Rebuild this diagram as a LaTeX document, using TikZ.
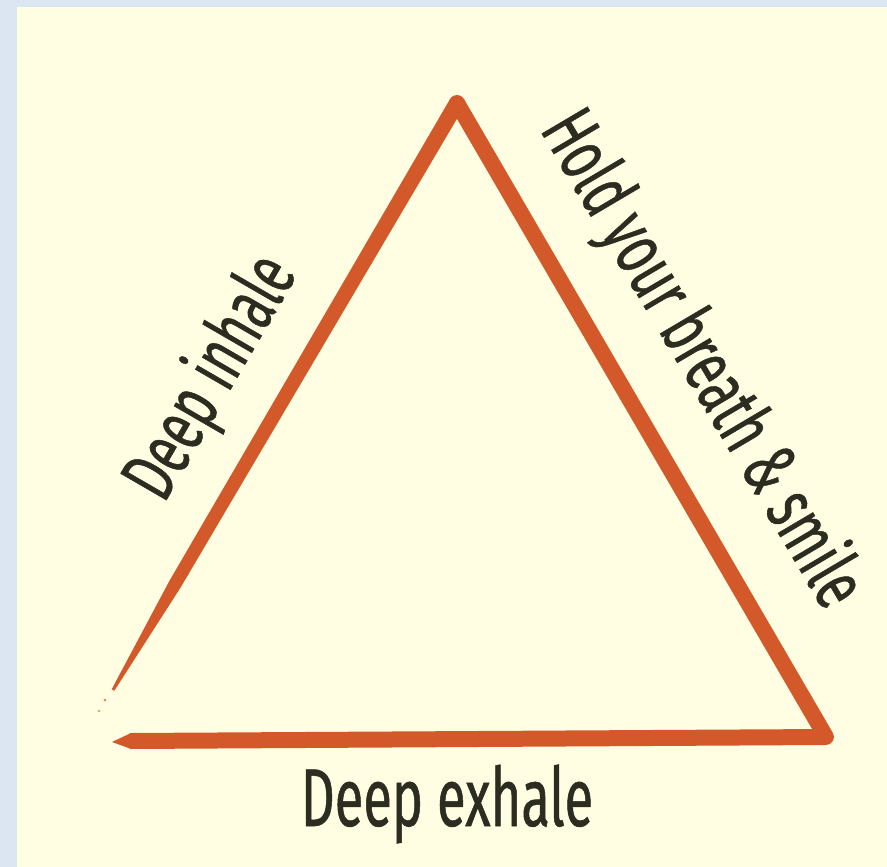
\documentclass[tikz,border=0pt]{standalone}
\usepackage{fontspec}
\usetikzlibrary{calc}
\newfontfamily\lblfont{Fira Sans}[FakeStretch=0.64,FakeBold=0.6]
\definecolor{bgblue}{HTML}{DCE6F2}
\definecolor{cream}{HTML}{FFFEE2}
\definecolor{brush}{HTML}{D4592A}
\definecolor{ink}{HTML}{2C2C20}
\tikzset{
  lbl/.style={font=\lblfont\fontsize{82}{82}\selectfont, text=ink, inner sep=0pt},
  slbl/.style={font=\lblfont\fontsize{77}{77}\selectfont, text=ink, inner sep=0pt},
  stroke/.style={draw=brush, line width=16, line join=round, line cap=butt},
}
\begin{document}
\begin{tikzpicture}[x=1pt,y=-1pt]
\useasboundingbox (0,0) rectangle (887,867);
\fill[bgblue] (0,0) rectangle (887,867);
\fill[cream] (17,7) rectangle (887,867);
% vertices
\coordinate (A) at (457,103);
\coordinate (C) at (826,737);
\coordinate (B) at (130,741);
\coordinate (Bt) at (112,742);
\coordinate (L) at (113,690);
\coordinate (P) at ($(A)!0.82!(L)$);
% right side and bottom
\draw[stroke] (A) -- (C) -- (B);
\fill[brush] (A) circle (8);
\fill[brush] ($(B)+(0,-7.5)$) -- (Bt) -- ($(B)+(0,7.5)$) -- cycle;
% left side, tapering toward its lower end
\fill[brush] ($(A)!8pt!90:(L)$) -- ($(P)!6.5pt!-90:(A)$) -- ($(L)!1.5pt!-90:(A)$)
  -- ($(L)!1.5pt!90:(A)$) -- ($(P)!6.5pt!90:(A)$) -- ($(A)!8pt!-90:(L)$) -- cycle;
\fill[brush!70!cream] (105,700) circle (1.5);
\fill[brush!60!cream] (99,711) circle (1.3);
% labels
\node[slbl, rotate=59.9] (inhale) at (212,378) {Deep inhale};
\node[slbl, rotate=-59.4] (hold) at (701,360) {Hold your breath \& smile};
\node[lbl, anchor=base] (exhale) at (447,826) {Deep exhale};
\end{tikzpicture}
\end{document}
